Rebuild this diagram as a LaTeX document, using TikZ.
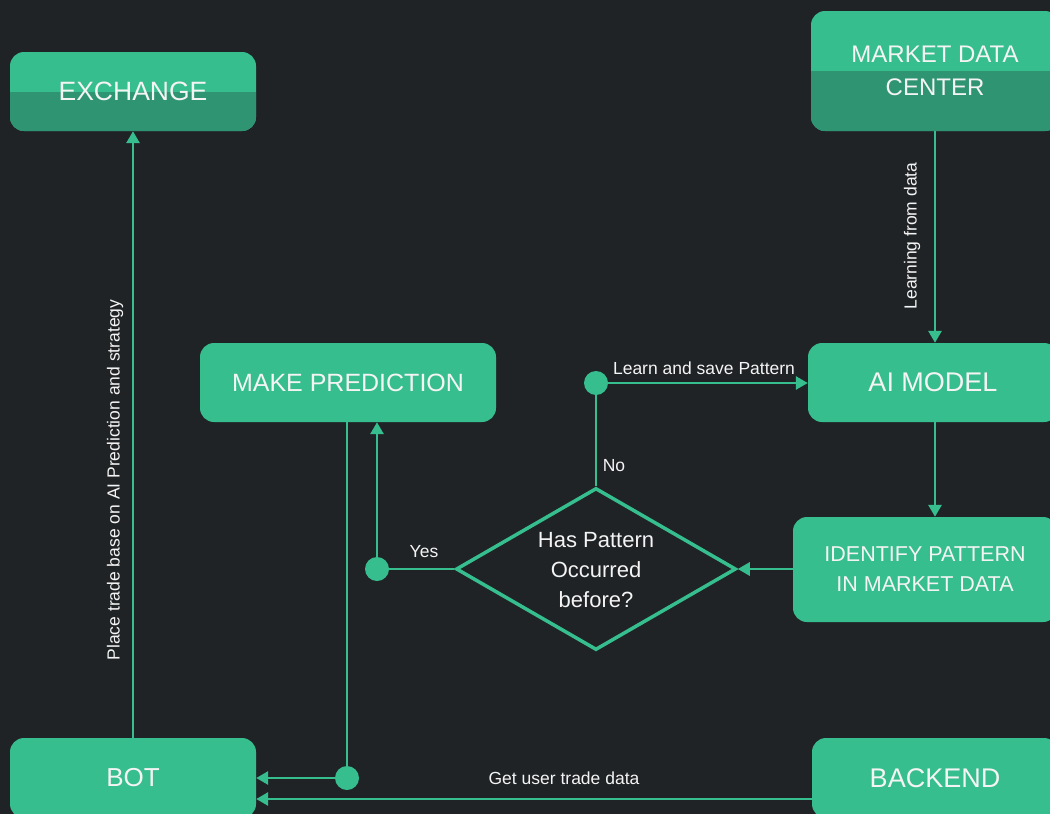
\documentclass[tikz,border=0pt]{standalone}
\usepackage{fontspec}
\setmainfont{Liberation Sans}
\usetikzlibrary{shapes.geometric,arrows.meta}
\definecolor{bg}{HTML}{1F2326}
\definecolor{gr}{HTML}{37BE8E}
\definecolor{grd}{HTML}{2E9471}
\definecolor{txt}{HTML}{F4F4F4}
\begin{document}
\begin{tikzpicture}[x=1pt,y=-1pt,
  box/.style={fill=gr, rounded corners=14pt, text=txt, align=center, inner sep=0pt},
  twotone/.style={box, path picture={\fill[grd, sharp corners] (path picture bounding box.west) rectangle (path picture bounding box.south east);}},
  dot/.style={circle, fill=gr, minimum size=24pt, inner sep=0pt},
  conn/.style={draw=gr, line width=2.8pt},
  arr/.style={conn, -{Triangle[width=13pt,length=12pt]}},
  lbl/.style={text=txt, font=\fontsize{17.5}{20}\selectfont, inner sep=0pt}
]
\clip (0,0) rectangle (1050,814);
\fill[bg] (0,0) rectangle (1050,814);

% boxes
\node[twotone, minimum width=246pt, minimum height=79pt, font=\fontsize{26.5}{30}\selectfont] (exch) at (133,91.5) {EXCHANGE};
\node[twotone, minimum width=248pt, minimum height=120pt, font=\fontsize{24}{33}\selectfont] (mdc) at (935,71) {MARKET DATA\\CENTER};
\node[box, minimum width=296pt, minimum height=79pt, font=\fontsize{25}{30}\selectfont] (pred) at (348,382.5) {MAKE PREDICTION};
\node[box, minimum width=250pt, minimum height=79pt, font=\fontsize{27}{30}\selectfont] (ai) at (933,382.5) {AI MODEL};
\node[box, minimum width=264pt, minimum height=105pt, font=\fontsize{21.5}{30}\selectfont] (ident) at (925,569.5) {IDENTIFY PATTERN\\IN MARKET DATA};
\node[box, minimum width=246pt, minimum height=80pt, font=\fontsize{26}{30}\selectfont] (bot) at (133,778) {BOT};
\node[box, minimum width=246pt, minimum height=80pt, font=\fontsize{27}{30}\selectfont] (backend) at (935,778) {BACKEND};

% decision
\node[diamond, draw=gr, line width=3.5pt, minimum width=280pt, minimum height=162pt, inner sep=0pt] (dia) at (596,569) {};
\node[text=txt, align=center, inner sep=0pt, font=\fontsize{22}{30}\selectfont] (diatext) at (596,570) {Has Pattern\\Occurred\\before?};

% dots
\node[dot] (dno) at (596,383) {};
\node[dot] (dyes) at (377,569) {};
\node[dot] (dbot) at (347,778) {};

% connectors
\draw[arr] (bot.north) -- (exch.south);
\draw[arr] (mdc.south) -- (mdc.south |- ai.north);
\draw[arr] (ai.south -| mdc.south) -- (ident.north -| mdc.south);
\draw[arr] (ident.west |- dia.east) -- (dia.east);
\draw[conn] (dia.north) -- (dno);
\draw[arr] (dno) -- (dno -| ai.west);
\draw[conn] (dia.west) -- (dyes);
\draw[arr] (dyes) -- (dyes |- pred.south);
\draw[conn] (dbot |- pred.south) -- (dbot);
\draw[arr] (dbot) -- (dbot -| bot.east);
\draw[arr] ([yshift=-21pt]backend.west) -- ([yshift=-21pt]backend.west -| bot.east);

% labels
\node[lbl, rotate=90] (lplace) at (115,480) {Place trade base on AI Prediction and strategy};
\node[lbl, rotate=90] (llearn) at (912,236) {Learning from data};
\node[lbl] (lsave) at (704,368) {Learn and save Pattern};
\node[lbl] (lno) at (614,466) {No};
\node[lbl] (lyes) at (424,552) {Yes};
\node[lbl] (lget) at (564,778) {Get user trade data};
\end{tikzpicture}
\end{document}
